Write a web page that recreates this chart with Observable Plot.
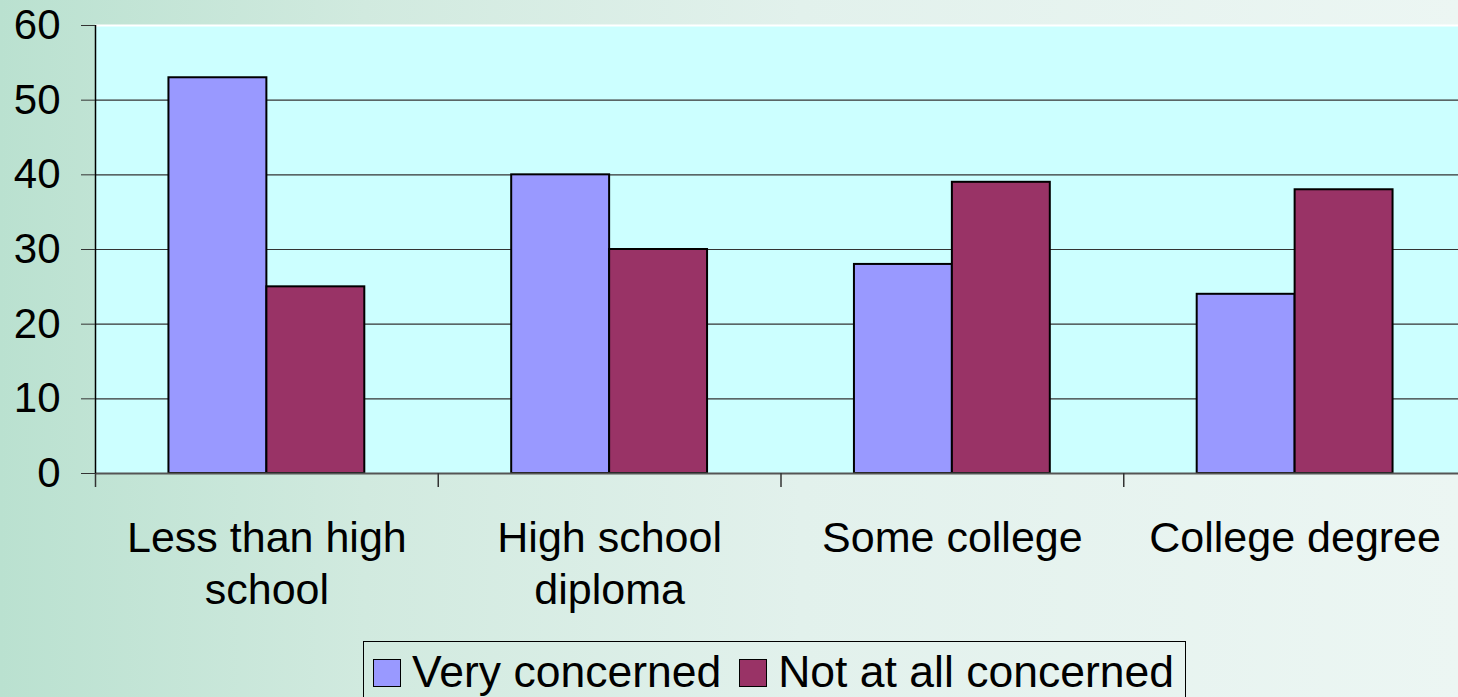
<!DOCTYPE html>
<html>
<head>
<meta charset="utf-8">
<script src="https://cdn.jsdelivr.net/npm/d3@7"></script>
<script src="https://cdn.jsdelivr.net/npm/@observablehq/plot@0.6"></script>
<style>
  html, body { margin: 0; padding: 0; width: 1458px; height: 697px; overflow: hidden; }
  body {
    background: linear-gradient(90deg, #bae1d0 0%, #d1eadf 25%, #e2f1ec 55%, #ecf6f3 100%);
    font-family: "Liberation Sans", Arial, sans-serif;
    position: relative;
  }
  #chart { position: absolute; left: 0; top: 0; width: 1466px; }
  #chart svg { max-width: none !important; }
  #legend {
    position: absolute; left: 363px; top: 641px;
    border: 1px solid #000; height: 80px; box-sizing: border-box;
    padding: 6px 11px 0 9px; font-size: 44.5px; line-height: 48px; white-space: nowrap;
    color: #000;
  }
  #legend .sw { display: inline-block; width: 28px; height: 28px; box-sizing: border-box; border: 1px solid #000; margin-right: 11px; vertical-align: baseline; }
  #legend .item + .item { margin-left: 18px; }
</style>
</head>
<body>
<div id="chart"></div>
<div id="legend"></div>
<script>
const categories = ["Less than high school", "High school diploma", "Some college", "College degree"];
const tickLabels = ["Less than high\nschool", "High school\ndiploma", "Some college", "College degree"];
const seriesNames = ["Very concerned", "Not at all concerned"];
const veryConcerned = [53, 40, 28, 24];
const notAtAllConcerned = [25, 30, 39, 38];
const colors = ["#9999FF", "#993366"];
const yTicks = [0, 10, 20, 30, 40, 50, 60];

const rows = [];
categories.forEach((c, i) => {
  rows.push({cat: c, i, s: 0, series: seriesNames[0], value: veryConcerned[i]});
  rows.push({cat: c, i, s: 1, series: seriesNames[1], value: notAtAllConcerned[i]});
});

// Excel-like gap width of 150%: each bar = 1/3.5 of a category, outer gap = 0.75 bar
const bw = 1 / 3.5, gap = 0.75 * bw;

const chart = Plot.plot({
  width: 1466,
  height: 697,
  marginLeft: 95,
  marginRight: 0,
  marginTop: 25,
  marginBottom: 224,
  style: {fontFamily: "'Liberation Sans', Arial, sans-serif", background: "transparent", color: "#000", overflow: "visible", maxWidth: "none"},
  x: {type: "linear", domain: [0, categories.length], axis: null},
  y: {domain: [0, 60], axis: null},
  marks: [
    Plot.frame({fill: "#CCFFFF", stroke: null}),
    Plot.ruleY(yTicks.filter(t => t > 0 && t < 60), {stroke: "#333", strokeWidth: 1.2}),
    Plot.ruleY([60], {stroke: "#fff", strokeWidth: 2}),
    Plot.rectY(rows, {
      x1: d => d.i + gap + d.s * bw,
      x2: d => d.i + gap + (d.s + 1) * bw,
      y1: 0,
      y2: "value",
      fill: d => colors[d.s],
      stroke: "#000",
      strokeWidth: 2
    }),
    Plot.ruleY([0], {stroke: "#555", strokeWidth: 2}),
    Plot.ruleX([0], {y1: 0, y2: 60, stroke: "#000", strokeWidth: 1.5}),
    Plot.axisY({ticks: yTicks, label: null, tickSize: 14, tickPadding: 21, fontSize: 42, tickFormat: d => String(d), stroke: "#333"}),
    Plot.axisX({ticks: d3.range(categories.length), label: null, tickSize: 14, tickFormat: () => "", stroke: "#333", strokeWidth: 1.5}),
    Plot.axisX({ticks: categories.map((c, i) => i + 0.5), label: null, tickSize: 0, tickPadding: 42, fontSize: 43, lineHeight: 1.21,
      tickFormat: (d) => tickLabels[Math.floor(d)]})
  ]
});
document.getElementById("chart").appendChild(chart);

const legend = document.getElementById("legend");
seriesNames.forEach((n, k) => {
  const span = document.createElement("span");
  span.className = "item";
  const sw = document.createElement("span");
  sw.className = "sw";
  sw.style.background = colors[k];
  span.appendChild(sw);
  span.appendChild(document.createTextNode(n));
  legend.appendChild(span);
});
</script>
</body>
</html>
